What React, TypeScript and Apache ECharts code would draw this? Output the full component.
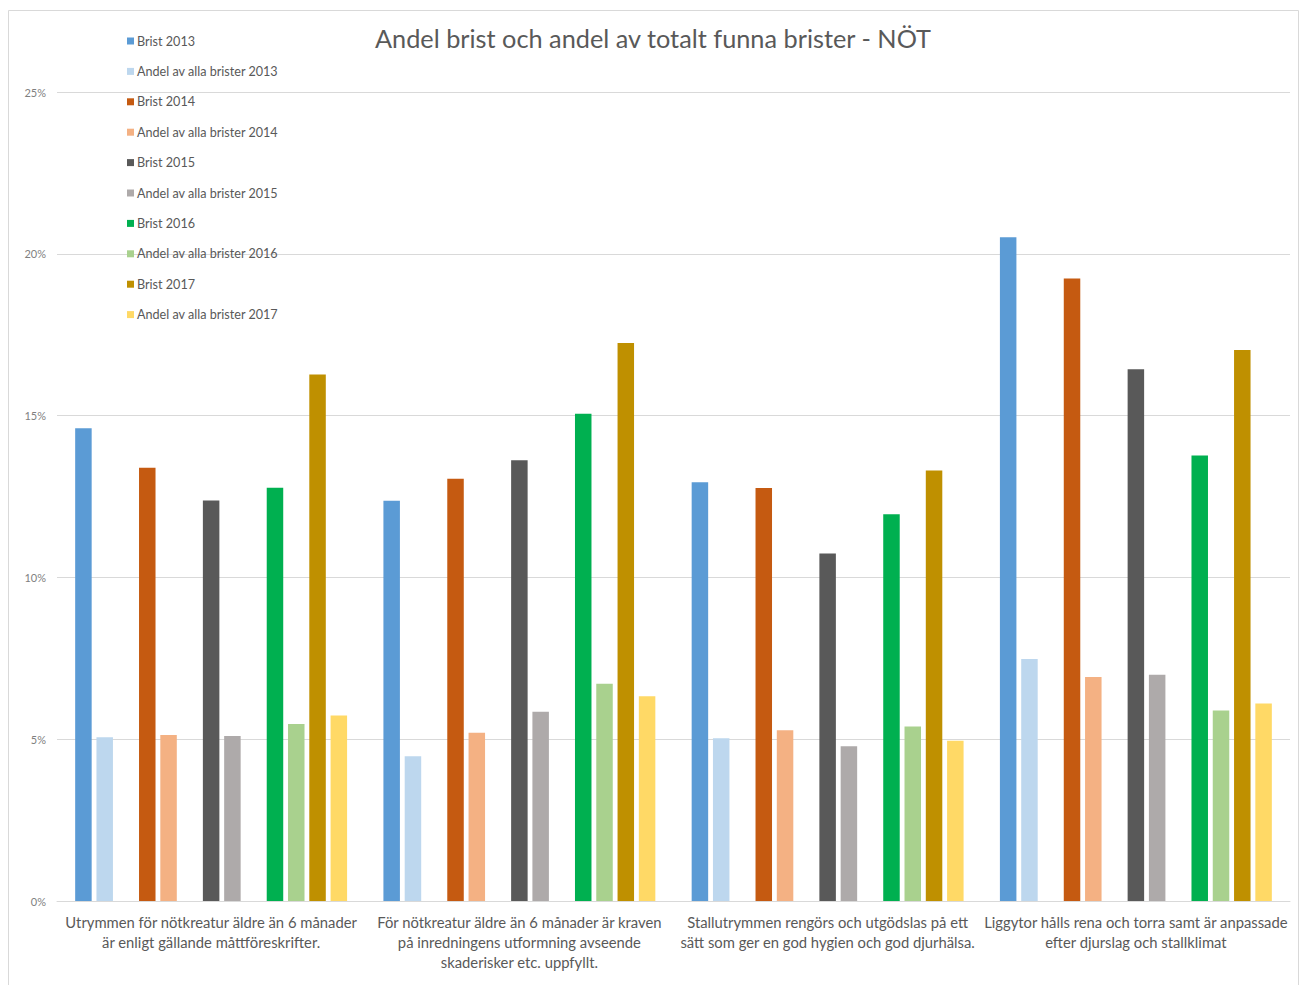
import React, { useEffect, useRef } from "react";
import * as echarts from "echarts";

const categories = [
  "Utrymmen för nötkreatur äldre än 6 månader\när enligt gällande måttföreskrifter.",
  "För nötkreatur äldre än 6 månader är kraven\npå inredningens utformning avseende\nskaderisker etc. uppfyllt.",
  "Stallutrymmen rengörs och utgödslas på ett\nsätt som ger en god hygien och god djurhälsa.",
  "Liggytor hålls rena och torra samt är anpassade\nefter djurslag och stallklimat",
];

const brist2013 = [14.61, 12.37, 12.94, 20.51];
const andel2013 = [5.06, 4.47, 5.03, 7.48];
const brist2014 = [13.39, 13.05, 12.76, 19.24];
const andel2014 = [5.13, 5.2, 5.28, 6.92];
const brist2015 = [12.38, 13.62, 10.74, 16.43];
const andel2015 = [5.1, 5.85, 4.78, 6.99];
const brist2016 = [12.77, 15.06, 11.95, 13.77];
const andel2016 = [5.47, 6.71, 5.39, 5.89];
const brist2017 = [16.27, 17.24, 13.3, 17.03];
const andel2017 = [5.73, 6.33, 4.95, 6.1];

const yTicks = [0, 5, 10, 15, 20, 25];

const seriesDefs: { name: string; data: (number | null)[]; color: string; legend: boolean }[] = [
  { name: "Brist 2013", data: brist2013, color: "#5B9BD5", legend: true },
  { name: "Andel av alla brister 2013", data: andel2013, color: "#BDD7EE", legend: true },
  { name: "_gap1", data: [null, null, null, null], color: "transparent", legend: false },
  { name: "Brist 2014", data: brist2014, color: "#C55A11", legend: true },
  { name: "Andel av alla brister 2014", data: andel2014, color: "#F4B183", legend: true },
  { name: "_gap2", data: [null, null, null, null], color: "transparent", legend: false },
  { name: "Brist 2015", data: brist2015, color: "#595959", legend: true },
  { name: "Andel av alla brister 2015", data: andel2015, color: "#AEAAAA", legend: true },
  { name: "_gap3", data: [null, null, null, null], color: "transparent", legend: false },
  { name: "Brist 2016", data: brist2016, color: "#00B050", legend: true },
  { name: "Andel av alla brister 2016", data: andel2016, color: "#A9D18E", legend: true },
  { name: "Brist 2017", data: brist2017, color: "#BF9000", legend: true },
  { name: "Andel av alla brister 2017", data: andel2017, color: "#FFD966", legend: true },
];

export default function App() {
  const ref = useRef<HTMLDivElement>(null);
  useEffect(() => {
    document.body.style.margin = "0";
    if (!ref.current) return;
    const chart = echarts.init(ref.current, null, { renderer: "svg" });
    const font = "Lato, 'Open Sans', sans-serif";
    chart.setOption({
      animation: false,
      backgroundColor: "#ffffff",
      textStyle: { fontFamily: font },
      title: {
        text: "Andel brist och andel av totalt funna brister - NÖT",
        left: 648,
        textAlign: "center",
        top: 20,
        textStyle: { fontSize: 25.3, fontWeight: "normal", color: "#595959", fontFamily: font },
      },
      legend: {
        orient: "vertical",
        left: 122,
        top: 29,
        itemWidth: 7,
        itemHeight: 7,
        itemGap: 16.4,
        icon: "rect",
        data: seriesDefs.filter((s) => s.legend).map((s) => s.name),
        textStyle: { fontSize: 12.6, color: "#595959", lineHeight: 14, padding: [0, 0, 0, -2], fontFamily: font },
      },
      grid: { left: 57, right: 14, top: 92, bottom: 84 },
      xAxis: {
        type: "category",
        data: categories,
        axisLine: { lineStyle: { color: "#d9d9d9" } },
        axisTick: { show: false },
        axisLabel: {
          interval: 0,
          color: "#595959",
          fontSize: 14.8,
          lineHeight: 20,
          margin: 11,
          fontFamily: font,
        },
      },
      yAxis: {
        type: "value",
        min: yTicks[0],
        max: yTicks[yTicks.length - 1],
        interval: 5,
        axisLabel: { formatter: "{value}%", color: "#7f7f7f", fontSize: 11, margin: 11, fontFamily: font },
        axisLine: { show: false },
        axisTick: { show: false },
        splitLine: { lineStyle: { color: "#d9d9d9" } },
      },
      series: seriesDefs.map((s) => ({
        type: "bar",
        name: s.name,
        data: s.data,
        barWidth: 16.5,
        barGap: "29%",
        itemStyle: { color: s.color },
      })),
      graphic: [
        {
          type: "rect",
          shape: { x: 8.5, y: 10.5, width: 1290, height: 990 },
          style: { fill: "none", stroke: "#d9d9d9", lineWidth: 1 },
          silent: true,
        },
      ],
    });
    return () => chart.dispose();
  }, []);
  return <div ref={ref} style={{ width: 1304, height: 985 }} />;
}
